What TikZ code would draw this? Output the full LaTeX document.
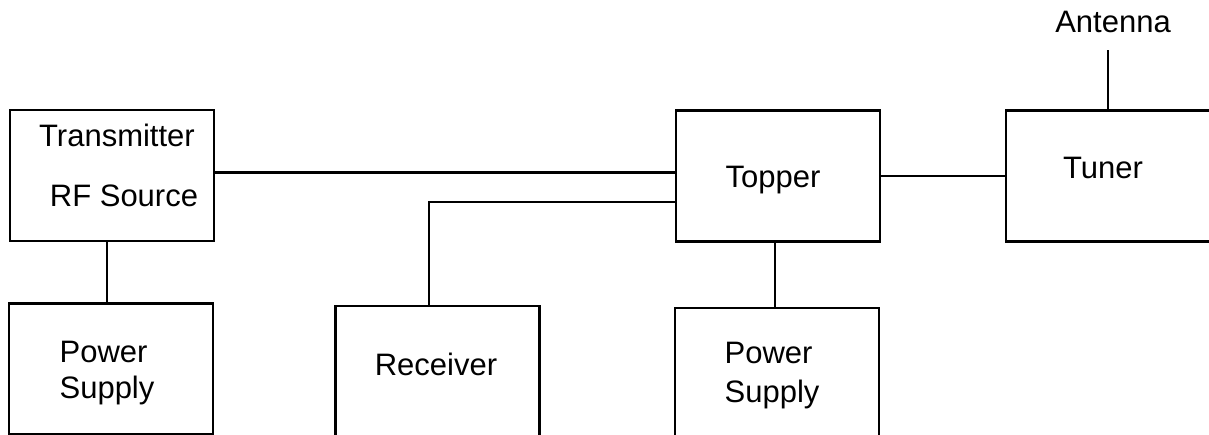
\documentclass[tikz,border=0pt]{standalone}
\usepackage{fontspec}
\setmainfont{Liberation Sans}
\usetikzlibrary{positioning,calc}
\tikzset{blk/.style={draw,line width=2.4pt,minimum width=204pt,minimum height=131pt,inner sep=0pt},txt/.style={inner sep=0pt,align=left,font=\fontsize{31}{36}\selectfont},wire/.style={line width=2.4pt}}
\begin{document}
\begin{tikzpicture}[x=1pt,y=-1pt]
\useasboundingbox (0,0) rectangle (1209,435);
% blocks
\node[blk] (tx) at (112,175.5) {};
\node[txt] (txa) at (117,135) {Transmitter};
\node[txt] (txb) at (124,196) {RF Source};
\node[blk] (psl) at (111,369) {};
\node[txt] (pslt) at (107,373) {Power\\Supply};
\node[blk] (rx) at (437.5,371.5) {};
\node[txt] (rxt) at (436,364) {Receiver};
\node[blk] (top) at (778,176) {};
\node[txt] (topt) at (773,180) {Topper};
\node[blk] (psm) at (777,373.5) {};
\node[txt] (psmt) at (772,376) {Power\\[3pt]Supply};
\node[blk] (tun) at (1108,176) {};
\node[txt] (tunt) at (1103,168) {Tuner};
\node[txt] (ant) at (1113,22) {Antenna};
\coordinate (feed) at (1109,50);
% wiring
\draw[wire] ([yshift=3pt]tx.east) -- ([yshift=3pt]tx.east -| top.west);
\draw[wire] ([xshift=-8.5pt]rx.north) |- ([yshift=-26pt]top.west);
\draw[wire] ([xshift=-5pt]tx.south) -- ([xshift=-5pt]tx.south |- psl.north);
\draw[wire] ([xshift=-3pt]top.south) -- ([xshift=-3pt]top.south |- psm.north);
\draw[wire] (top.east) -- (top.east -| tun.west);
\draw[wire] (tun.north) -- (tun.north |- feed);
\end{tikzpicture}
\end{document}
